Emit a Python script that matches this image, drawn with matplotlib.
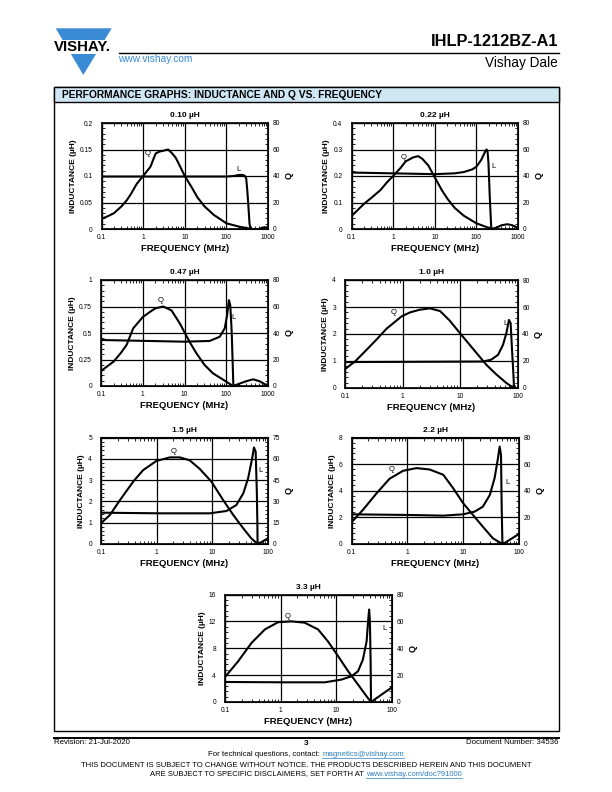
import matplotlib.pyplot as plt
import numpy as np
from matplotlib.ticker import AutoMinorLocator, NullFormatter, LogLocator
from matplotlib.patches import Polygon, Rectangle

plt.rcParams['font.family'] = ['Liberation Sans', 'DejaVu Sans']

W, H = 612, 792
BLUE = '#3b8ad6'
LINK = '#2b7fc3'

# ---- values (frequency in MHz) ----
f_L_010 = [0.1, 1, 10, 100, 150, 200, 250, 280, 300, 320, 340, 360, 380, 600, 700, 800, 1000]
L_010 = [0.099, 0.099, 0.099, 0.099, 0.1, 0.102, 0.102, 0.1, 0.095, 0.07, 0.04, 0.01, 0.0, 0.0, 0.002, 0.003, 0.003]
f_Q_010 = [0.1, 0.15, 0.2, 0.3, 0.4, 0.5, 0.7, 1, 1.5, 2, 2.5, 3, 4, 5, 6, 7, 10, 15, 20, 30, 50, 70, 100, 200, 400]
Q_010 = [7.6, 10, 12, 17, 21.5, 26, 34, 40, 47, 57, 58.5, 59, 60, 57, 54, 50, 40, 31, 24, 17, 10.6, 7.6, 4.3, 1.8, 0]

f_L_022 = [0.1, 1, 10, 30, 50, 80, 100, 130, 160, 175, 185, 195, 210, 225, 230, 300, 400, 550, 700, 1000]
L_022 = [0.213, 0.21, 0.207, 0.21, 0.215, 0.225, 0.235, 0.26, 0.29, 0.3, 0.295, 0.25, 0.12, 0.02, 0.0,
         0.005, 0.014, 0.018, 0.015, 0.005]
f_Q_022 = [0.1, 0.2, 0.3, 0.5, 0.7, 1, 1.5, 2, 3, 4, 5, 7, 10, 15, 20, 30, 50, 100, 200, 230]
Q_022 = [9.8, 19, 23.5, 29.5, 35, 40, 46, 51, 54, 55, 53, 48, 39, 29, 23, 16, 10, 4.3, 0.8, 0]

f_L_047 = [0.1, 10, 40, 70, 92, 105, 116, 125, 135, 143, 148, 200, 300, 440, 630, 1000]
L_047 = [0.434, 0.418, 0.425, 0.465, 0.544, 0.67, 0.81, 0.76, 0.51, 0.2, 0.0, 0.02, 0.045, 0.063, 0.045, 0.0]
f_Q_047 = [0.1, 0.2, 0.3, 0.41, 0.59, 1, 1.5, 2, 3.1, 4.9, 7.8, 10.2, 14, 19.3, 30, 48, 100, 145]
Q_047 = [11.3, 18.4, 25, 31, 43.5, 52, 56, 58.6, 60, 57, 47, 40, 32, 24.7, 16, 9.6, 3.3, 0]

f_L_10 = [0.1, 25, 35, 46, 56, 64, 71, 76, 80, 85, 87, 100]
L_10 = [0.96, 0.98, 1.05, 1.23, 1.6, 2.03, 2.52, 2.4, 1.48, 0.49, 0.0, 0.0]
f_Q_10 = [0.1, 0.15, 0.21, 0.35, 0.53, 0.96, 1.35, 2, 3, 4.5, 6.6, 10, 19.3, 29, 43, 64, 86]
Q_10 = [14, 19.7, 26, 35.7, 44, 53, 56, 58, 59, 57, 50, 40.6, 26, 17, 10, 3.7, 0]

f_L_15 = [0.1, 1.14, 9, 18, 27, 36, 44, 52, 56, 60, 63, 64.5, 65, 67, 100]
L_15 = [1.47, 1.44, 1.44, 1.55, 1.83, 2.38, 3.09, 4.03, 4.53, 4.34, 2.46, 0.89, 0.0, 0.0, 0.27]
f_Q_15 = [0.1, 0.145, 0.22, 0.38, 0.57, 0.99, 1.73, 2.6, 3.9, 5.9, 9.6, 15.6, 23.7, 36, 50, 65]
Q_15 = [14.6, 20.5, 31, 44, 52, 58.5, 61, 61, 59, 53, 44, 31, 20.5, 11, 4, 0]

f_L_22 = [0.1, 1.1, 4.4, 10, 16, 22.5, 30, 36.5, 42, 45, 47.6, 49, 50.5, 51.5, 100]
L_22 = [2.23, 2.18, 2.13, 2.23, 2.43, 2.8, 3.68, 4.94, 6.44, 7.32, 6.7, 2.68, 0.0, 0.0, 0.75]
f_Q_22 = [0.1, 0.16, 0.28, 0.48, 0.84, 1.45, 2.5, 4.4, 6.6, 10, 15, 22.5, 34, 50.5]
Q_22 = [16.3, 25.6, 38, 49, 55, 57, 56, 52, 42, 30.6, 21.8, 13, 4.3, 0]

f_L_33 = [0.1, 1.19, 6.2, 12.3, 18.7, 24.5, 30, 35, 37.2, 38.8, 40.1, 41.3, 42, 100]
L_33 = [2.98, 2.93, 2.93, 3.33, 3.83, 4.57, 6.31, 9.04, 12, 13.76, 12, 6, 0.0, 2.19]
f_Q_33 = [0.1, 0.17, 0.3, 0.52, 0.9, 1.57, 2.7, 4.7, 7.1, 10.8, 16.3, 24.5, 35, 42]
Q_33 = [18.6, 30, 44, 54, 59.4, 60, 59, 54, 45, 34, 22.9, 13, 4.2, 0]

freq_ticks = [0.1, 1, 10, 100, 1000]
freq_labels = ['0.1', '1', '10', '100', '1000']


def draw_chart(fig, box, title, f_l, l_vals, f_q, q_vals, xmax, l_ticks, l_labels, q_ticks, q_pos, l_pos):
    left, top, right, bottom = box
    ax = fig.add_axes([left / W, 1 - bottom / H, (right - left) / W, (bottom - top) / H])
    ax.set_xscale('log')
    ax.set_xlim(0.1, xmax)
    ax.set_ylim(l_ticks[0], l_ticks[-1])
    n = len([t for t in freq_ticks if t <= xmax])
    ax.set_xticks(freq_ticks[:n], freq_labels[:n])
    ax.set_yticks(l_ticks, l_labels)
    ax.xaxis.set_minor_locator(LogLocator(base=10, subs=np.arange(2, 10)))
    ax.xaxis.set_minor_formatter(NullFormatter())
    ax.yaxis.set_minor_locator(AutoMinorLocator(5))
    ax.grid(True, which='major', color='black', lw=0.9)
    ax.set_axisbelow(True)
    ax.tick_params(which='both', direction='in', top=True, right=False, labelsize=4.8, width=0.6)
    ax.tick_params(which='major', length=0)
    ax.tick_params(which='minor', length=2)
    ax.tick_params(axis='y', pad=6.5)
    ax.tick_params(axis='x', pad=3.5)
    for s in ax.spines.values():
        s.set_linewidth(1.2)
    ax.plot(f_l, l_vals, color='black', lw=1.5, solid_joinstyle='round')

    ax2 = ax.twinx()
    ax2.set_ylim(q_ticks[0], q_ticks[-1])
    ax2.set_yticks(q_ticks)
    ax2.yaxis.set_minor_locator(AutoMinorLocator(5))
    ax2.tick_params(which='both', direction='in', labelsize=4.8, pad=3.5, width=0.6)
    ax2.tick_params(which='major', length=0)
    ax2.tick_params(which='minor', length=2)
    ax2.plot(f_q, q_vals, color='black', lw=1.5, solid_joinstyle='round')

    ax.text(q_pos[0], q_pos[1], 'Q', fontsize=5.5, ha='center', va='center')
    ax.text(l_pos[0], l_pos[1], 'L', fontsize=5.5, ha='center', va='center')
    ax.set_title(title, fontsize=6, fontweight='bold', pad=4)
    ax.set_xlabel('FREQUENCY (MHz)', fontsize=6.8, fontweight='bold', labelpad=2)
    ax.set_ylabel('INDUCTANCE (µH)', fontsize=6, fontweight='bold', labelpad=2)
    ax2.set_ylabel('Q', fontsize=6.5, fontweight='bold', labelpad=3, rotation=90)
    return ax


def rich_line(page, renderer, y, parts, size):
    # parts: (text, colour, underline); centred on the page
    gap = 0.278 * size * 100 / 72
    texts = []
    total = 0
    for s, c, u in parts:
        t = page.text(0, y, s, color=c, fontsize=size, ha='left', va='center')
        w = t.get_window_extent(renderer).width
        texts.append((t, w, u, c))
        total += w
    total += gap * (len(parts) - 1)
    x = W / 2 - total / 2
    for t, w, u, c in texts:
        t.set_x(x)
        if u:
            page.plot([x, x + w], [y + 3.6, y + 3.6], color=c, lw=0.5)
        x += w + gap


fig = plt.figure(figsize=(W / 100, H / 100), dpi=100)
page = fig.add_axes([0, 0, 1, 1])
page.set_xlim(0, W)
page.set_ylim(H, 0)
page.axis('off')

# logo
page.add_patch(Polygon([[55.7, 28.3], [111.7, 28.3], [83.3, 75]], closed=True, color=BLUE, lw=0))
page.add_patch(Rectangle((50, 39.5), 66, 14, color='white', lw=0))
page.text(82, 46.7, 'VISHAY.', fontsize=10.8, fontweight='bold', ha='center', va='center')

page.text(558, 41, 'IHLP-1212BZ-A1', fontsize=11.8, fontweight='bold', ha='right', va='center')
page.plot([119, 559], [52.5, 52.5], color='black', lw=1.0)
page.text(118.5, 58.5, 'www.vishay.com', fontsize=7.3, color=BLUE, ha='left', va='center')
page.text(558, 63, 'Vishay Dale', fontsize=9.8, ha='right', va='center')

# section frame
page.add_patch(Rectangle((53.5, 87.3), 505.5, 644, fill=False, ec='black', lw=1.0))
page.add_patch(Rectangle((53.5, 87.3), 505.5, 14.5, fc='#cfe6f3', ec='black', lw=1.0))
page.text(61.5, 94.5, 'PERFORMANCE GRAPHS: INDUCTANCE AND Q VS. FREQUENCY', fontsize=7.4,
          fontweight='bold', ha='left', va='center')

draw_chart(fig, (101.5, 123, 268, 229), '0.10 µH', f_L_010, L_010, f_Q_010, Q_010, 1000,
           [0, 0.05, 0.1, 0.15, 0.2], ['0', '0.05', '0.1', '0.15', '0.2'], [0, 20, 40, 60, 80],
           (1.25, 0.143), (200, 0.112))
draw_chart(fig, (351.5, 123, 518, 229), '0.22 µH', f_L_022, L_022, f_Q_022, Q_022, 1000,
           [0, 0.1, 0.2, 0.3, 0.4], ['0', '0.1', '0.2', '0.3', '0.4'], [0, 20, 40, 60, 80],
           (1.74, 0.271), (251, 0.236))
draw_chart(fig, (101, 280, 268, 386), '0.47 µH', f_L_047, L_047, f_Q_047, Q_047, 1000,
           [0, 0.25, 0.5, 0.75, 1], ['0', '0.25', '0.5', '0.75', '1'], [0, 20, 40, 60, 80],
           (2.73, 0.805), (150, 0.648))
draw_chart(fig, (345, 280, 517.5, 388), '1.0 µH', f_L_10, L_10, f_Q_10, Q_10, 100,
           [0, 1, 2, 3, 4], ['0', '1', '2', '3', '4'], [0, 20, 40, 60, 80],
           (0.71, 2.79), (62, 2.38))
draw_chart(fig, (101, 437.5, 268, 544), '1.5 µH', f_L_15, L_15, f_Q_15, Q_15, 100,
           [0, 1, 2, 3, 4, 5], ['0', '1', '2', '3', '4', '5'], [0, 15, 30, 45, 60, 75],
           (2.04, 4.34), (73.3, 3.45))
draw_chart(fig, (351.5, 437.5, 519, 544), '2.2 µH', f_L_22, L_22, f_Q_22, Q_22, 100,
           [0, 2, 4, 6, 8], ['0', '2', '4', '6', '8'], [0, 20, 40, 60, 80],
           (0.53, 5.57), (62, 4.64))
draw_chart(fig, (225, 594.5, 392, 702), '3.3 µH', f_L_33, L_33, f_Q_33, Q_33, 100,
           [0, 4, 8, 12, 16], ['0', '4', '8', '12', '16'], [0, 20, 40, 60, 80],
           (1.31, 12.77), (72.4, 10.9))

# footer
page.plot([53.5, 559], [737.5, 737.5], color='black', lw=1.4)
page.text(54, 743, 'Revision: 21-Jul-2020', fontsize=5.7, ha='left', va='center')
page.text(306, 743.5, '3', fontsize=6, fontweight='bold', ha='center', va='center')
page.text(559, 743, 'Document Number: 34536', fontsize=5.7, ha='right', va='center')

renderer = fig.canvas.get_renderer()
rich_line(page, renderer, 754, [('For technical questions, contact:', 'black', False),
                                ('magnetics@vishay.com', LINK, True)], 5.6)
page.text(306, 765.5, 'THIS DOCUMENT IS SUBJECT TO CHANGE WITHOUT NOTICE. THE PRODUCTS DESCRIBED HEREIN AND THIS DOCUMENT',
          fontsize=5.5, ha='center', va='center')
rich_line(page, renderer, 774, [('ARE SUBJECT TO SPECIFIC DISCLAIMERS, SET FORTH AT', 'black', False),
                                ('www.vishay.com/doc?91000', LINK, True)], 5.5)

fig.savefig('out.png', dpi=100)
plt.close(fig)
